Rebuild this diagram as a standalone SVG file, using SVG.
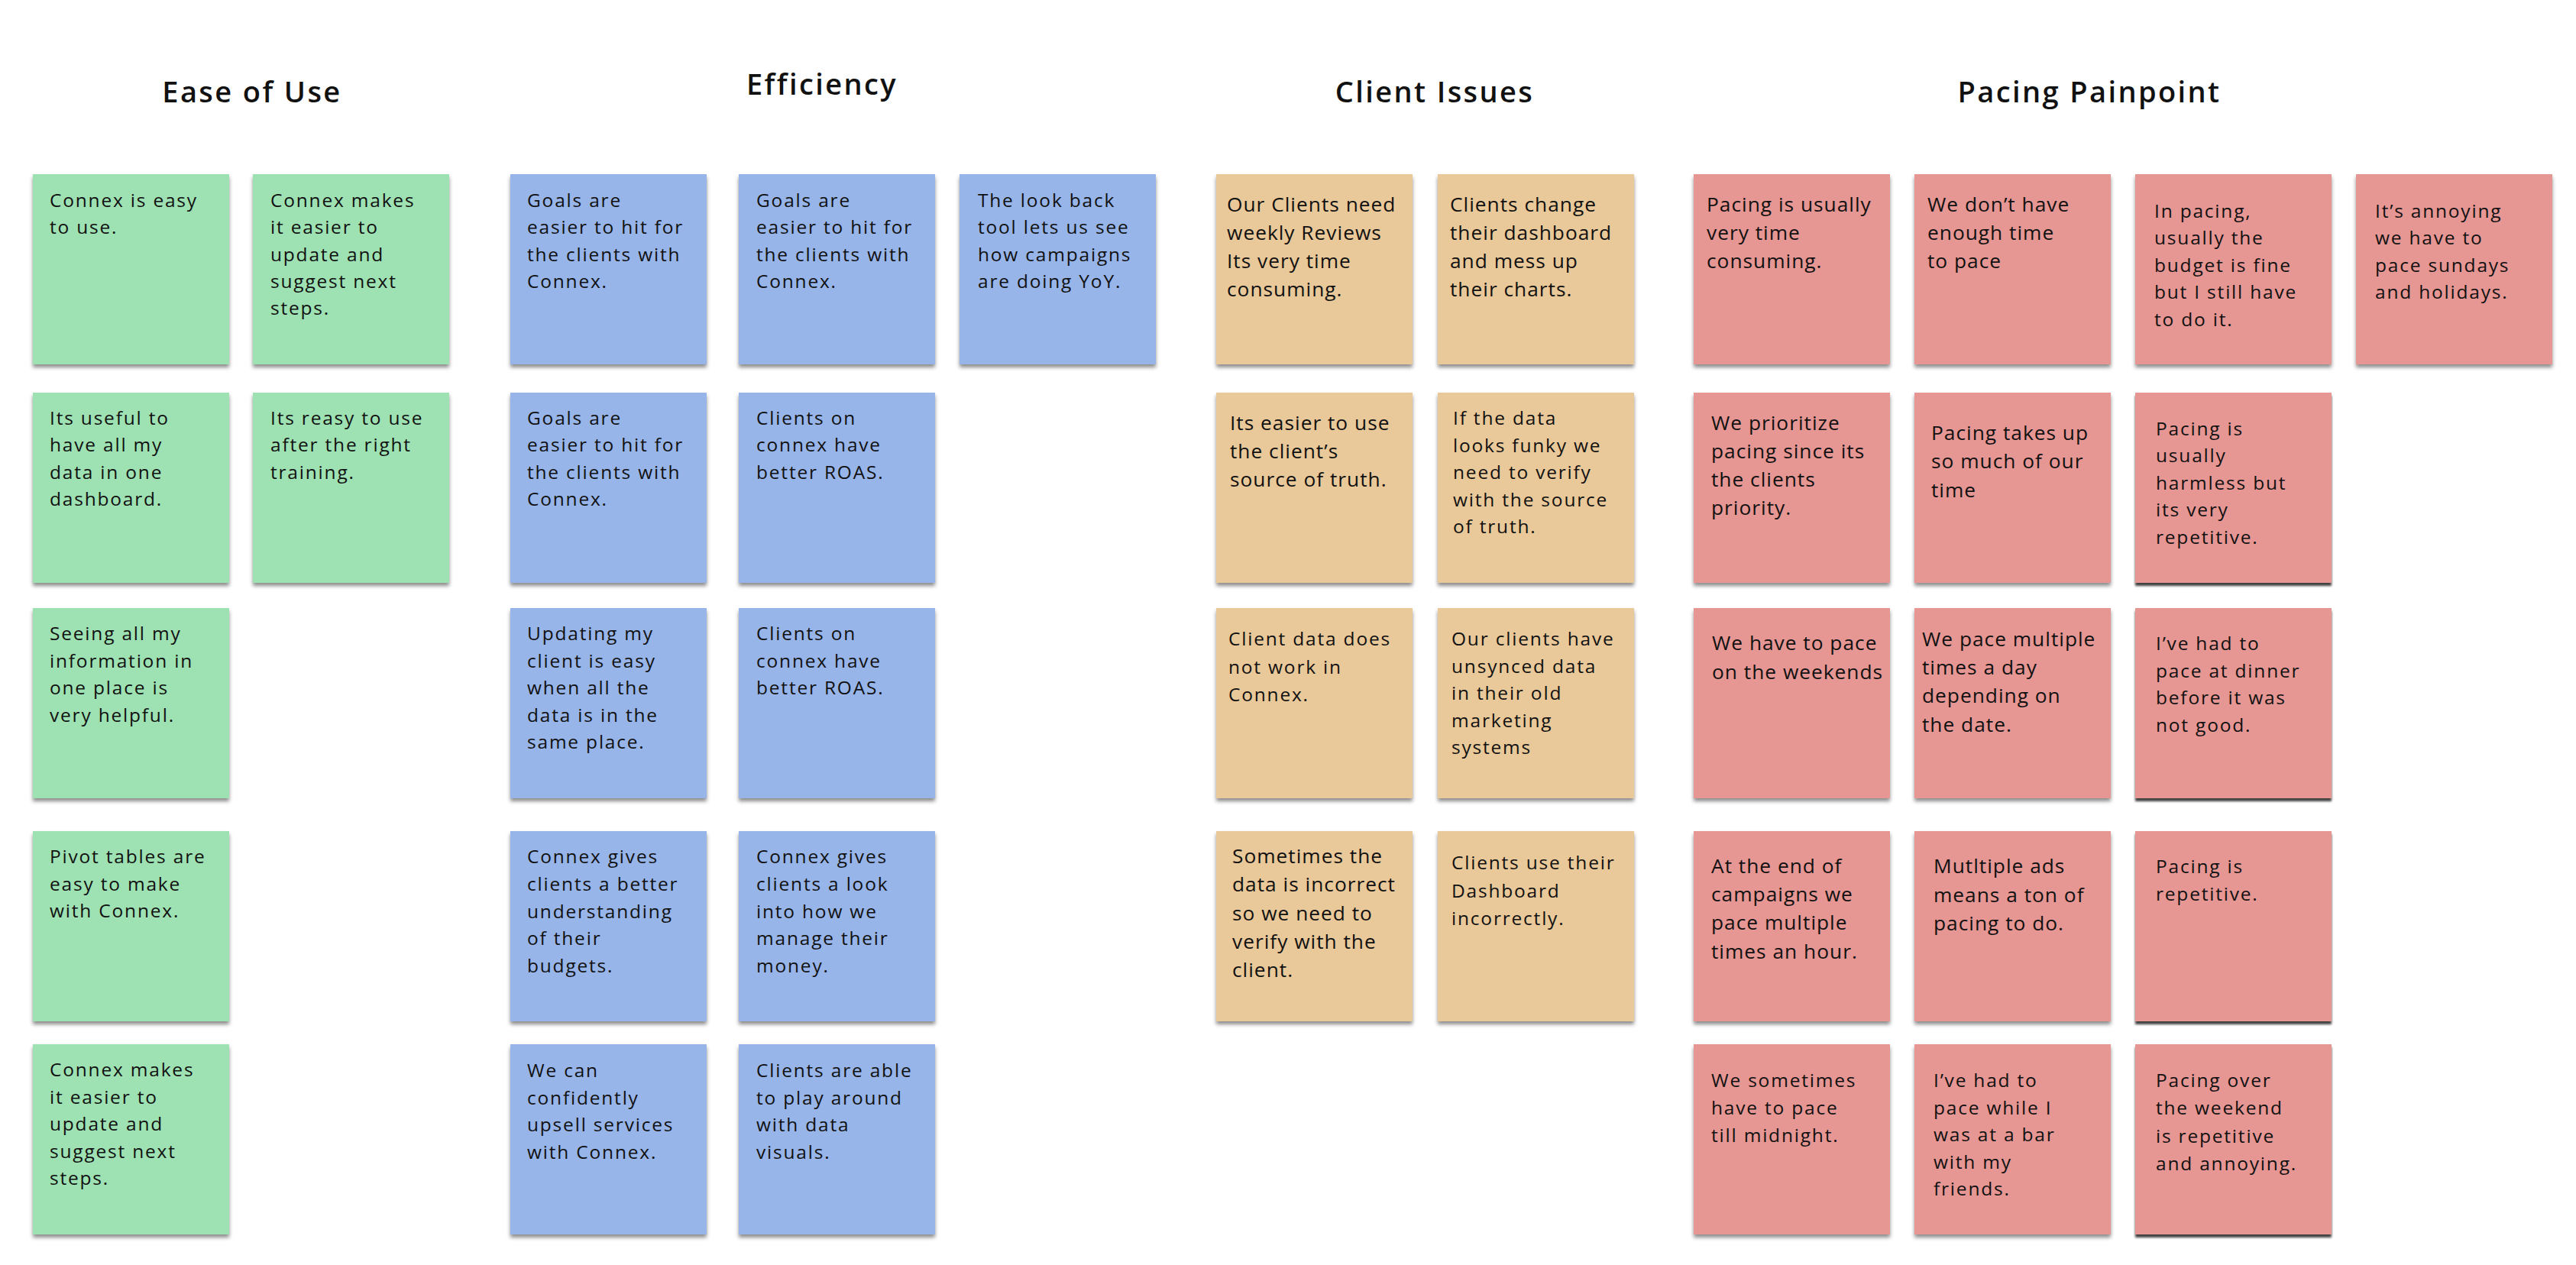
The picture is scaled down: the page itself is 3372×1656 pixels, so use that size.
<svg xmlns="http://www.w3.org/2000/svg" width="3372" height="1656" viewBox="0 0 3372 1656">
<style>
.title{font-family:"Open Sans","Liberation Sans",sans-serif;font-weight:600;font-size:38px;letter-spacing:2.4px;fill:#111;text-anchor:middle}
.nt{font-family:"Open Sans","Liberation Sans",sans-serif;font-size:24.5px;letter-spacing:1.8px;fill:#111}
.lg{font-size:26.3px;letter-spacing:1px}
.n{filter:url(#sh)}
.nd{filter:url(#shd)}
.green{fill:#9EE2B3}
.blue{fill:#97B5E9}
.tan{fill:#E9C899}
.pink{fill:#E69693}
</style>
<defs>
<filter id="sh" x="-10%" y="-10%" width="120%" height="125%">
<feDropShadow dx="0" dy="4" stdDeviation="2.5" flood-color="#000" flood-opacity="0.45"/>
</filter>
<filter id="shd" x="-10%" y="-10%" width="120%" height="125%">
<feDropShadow dx="0" dy="4" stdDeviation="1.5" flood-color="#000" flood-opacity="0.75"/>
</filter>
</defs>
<rect width="3372" height="1656" fill="#fff"/>
<g id="titles">
<text class="title" x="330" y="134">Ease of Use</text>
<text class="title" x="1076" y="124">Efficiency</text>
<text class="title" x="1878" y="134">Client Issues</text>
<text class="title" x="2735" y="134">Pacing Painpoint</text>
</g>
<!-- Ease of Use -->
<g id="g1"><rect class="n green" x="43" y="228" width="257" height="249"/><text class="nt" x="65" y="271"><tspan x="65">Connex is easy</tspan><tspan x="65" dy="35.3">to use.</tspan></text></g>
<g id="g2"><rect class="n green" x="331" y="228" width="257" height="249"/><text class="nt" x="354" y="271"><tspan x="354">Connex makes</tspan><tspan x="354" dy="35.3">it easier to</tspan><tspan x="354" dy="35.3">update and</tspan><tspan x="354" dy="35.3">suggest next</tspan><tspan x="354" dy="35.3">steps.</tspan></text></g>
<g id="g3"><rect class="n green" x="43" y="514" width="257" height="249"/><text class="nt" x="65" y="556"><tspan x="65">Its useful to</tspan><tspan x="65" dy="35.3">have all my</tspan><tspan x="65" dy="35.3">data in one</tspan><tspan x="65" dy="35.3">dashboard.</tspan></text></g>
<g id="g4"><rect class="n green" x="331" y="514" width="257" height="249"/><text class="nt" x="354" y="556"><tspan x="354">Its reasy to use</tspan><tspan x="354" dy="35.3">after the right</tspan><tspan x="354" dy="35.3">training.</tspan></text></g>
<g id="g5"><rect class="n green" x="43" y="796" width="257" height="249"/><text class="nt" x="65" y="838"><tspan x="65">Seeing all my</tspan><tspan x="65" dy="35.5">information in</tspan><tspan x="65" dy="35.5">one place is</tspan><tspan x="65" dy="35.5">very helpful.</tspan></text></g>
<g id="g6"><rect class="n green" x="43" y="1088" width="257" height="249"/><text class="nt" x="65" y="1130"><tspan x="65">Pivot tables are</tspan><tspan x="65" dy="35.5">easy to make</tspan><tspan x="65" dy="35.5">with Connex.</tspan></text></g>
<g id="g7"><rect class="n green" x="43" y="1367" width="257" height="249"/><text class="nt" x="65" y="1409"><tspan x="65">Connex makes</tspan><tspan x="65" dy="35.5">it easier to</tspan><tspan x="65" dy="35.5">update and</tspan><tspan x="65" dy="35.5">suggest next</tspan><tspan x="65" dy="35.5">steps.</tspan></text></g>
<!-- Efficiency -->
<g id="b1"><rect class="n blue" x="668" y="228" width="257" height="249"/><text class="nt" x="690" y="271"><tspan x="690">Goals are</tspan><tspan x="690" dy="35.3">easier to hit for</tspan><tspan x="690" dy="35.3">the clients with</tspan><tspan x="690" dy="35.3">Connex.</tspan></text></g>
<g id="b2"><rect class="n blue" x="967" y="228" width="257" height="249"/><text class="nt" x="990" y="271"><tspan x="990">Goals are</tspan><tspan x="990" dy="35.3">easier to hit for</tspan><tspan x="990" dy="35.3">the clients with</tspan><tspan x="990" dy="35.3">Connex.</tspan></text></g>
<g id="b3"><rect class="n blue" x="1256" y="228" width="257" height="249"/><text class="nt" x="1280" y="271"><tspan x="1280">The look back</tspan><tspan x="1280" dy="35.3">tool lets us see</tspan><tspan x="1280" dy="35.3">how campaigns</tspan><tspan x="1280" dy="35.3">are doing YoY.</tspan></text></g>
<g id="b4"><rect class="n blue" x="668" y="514" width="257" height="249"/><text class="nt" x="690" y="556"><tspan x="690">Goals are</tspan><tspan x="690" dy="35.3">easier to hit for</tspan><tspan x="690" dy="35.3">the clients with</tspan><tspan x="690" dy="35.3">Connex.</tspan></text></g>
<g id="b5"><rect class="n blue" x="967" y="514" width="257" height="249"/><text class="nt" x="990" y="556"><tspan x="990">Clients on</tspan><tspan x="990" dy="35.3">connex have</tspan><tspan x="990" dy="35.3">better ROAS.</tspan></text></g>
<g id="b6"><rect class="n blue" x="668" y="796" width="257" height="249"/><text class="nt" x="690" y="838"><tspan x="690">Updating my</tspan><tspan x="690" dy="35.6">client is easy</tspan><tspan x="690" dy="35.6">when all the</tspan><tspan x="690" dy="35.6">data is in the</tspan><tspan x="690" dy="35.6">same place.</tspan></text></g>
<g id="b7"><rect class="n blue" x="967" y="796" width="257" height="249"/><text class="nt" x="990" y="838"><tspan x="990">Clients on</tspan><tspan x="990" dy="35.6">connex have</tspan><tspan x="990" dy="35.6">better ROAS.</tspan></text></g>
<g id="b8"><rect class="n blue" x="668" y="1088" width="257" height="249"/><text class="nt" x="690" y="1130"><tspan x="690">Connex gives</tspan><tspan x="690" dy="35.8">clients a better</tspan><tspan x="690" dy="35.8">understanding</tspan><tspan x="690" dy="35.8">of their</tspan><tspan x="690" dy="35.8">budgets.</tspan></text></g>
<g id="b9"><rect class="n blue" x="967" y="1088" width="257" height="249"/><text class="nt" x="990" y="1130"><tspan x="990">Connex gives</tspan><tspan x="990" dy="35.8">clients a look</tspan><tspan x="990" dy="35.8">into how we</tspan><tspan x="990" dy="35.8">manage their</tspan><tspan x="990" dy="35.8">money.</tspan></text></g>
<g id="b10"><rect class="n blue" x="668" y="1367" width="257" height="249"/><text class="nt" x="690" y="1410"><tspan x="690">We can</tspan><tspan x="690" dy="35.6">confidently</tspan><tspan x="690" dy="35.6">upsell services</tspan><tspan x="690" dy="35.6">with Connex.</tspan></text></g>
<g id="b11"><rect class="n blue" x="967" y="1367" width="257" height="249"/><text class="nt" x="990" y="1410"><tspan x="990">Clients are able</tspan><tspan x="990" dy="35.6">to play around</tspan><tspan x="990" dy="35.6">with data</tspan><tspan x="990" dy="35.6">visuals.</tspan></text></g>
<!-- Client Issues -->
<g id="c1"><rect class="n tan" x="1592" y="228" width="257" height="249"/><text class="nt lg" x="1606" y="277"><tspan x="1606">Our Clients need</tspan><tspan x="1606" dy="37">weekly Reviews</tspan><tspan x="1606" dy="37">Its very time</tspan><tspan x="1606" dy="37">consuming.</tspan></text></g>
<g id="c2"><rect class="n tan" x="1882" y="228" width="257" height="249"/><text class="nt lg" x="1898" y="277"><tspan x="1898">Clients change</tspan><tspan x="1898" dy="37">their dashboard</tspan><tspan x="1898" dy="37">and mess up</tspan><tspan x="1898" dy="37">their charts.</tspan></text></g>
<g id="c3"><rect class="n tan" x="1592" y="514" width="257" height="249"/><text class="nt lg" x="1610" y="563"><tspan x="1610">Its easier to use</tspan><tspan x="1610" dy="37">the client’s</tspan><tspan x="1610" dy="37">source of truth.</tspan></text></g>
<g id="c4"><rect class="n tan" x="1882" y="514" width="257" height="249"/><text class="nt" x="1902" y="556"><tspan x="1902">If the data</tspan><tspan x="1902" dy="35.5">looks funky we</tspan><tspan x="1902" dy="35.5">need to verify</tspan><tspan x="1902" dy="35.5">with the source</tspan><tspan x="1902" dy="35.5">of truth.</tspan></text></g>
<g id="c5"><rect class="n tan" x="1592" y="796" width="257" height="249"/><text class="nt" x="1608" y="845"><tspan x="1608">Client data does</tspan><tspan x="1608" dy="36.5">not work in</tspan><tspan x="1608" dy="36.5">Connex.</tspan></text></g>
<g id="c6"><rect class="n tan" x="1882" y="796" width="257" height="249"/><text class="nt" x="1900" y="845"><tspan x="1900">Our clients have</tspan><tspan x="1900" dy="35.6">unsynced data</tspan><tspan x="1900" dy="35.6">in their old</tspan><tspan x="1900" dy="35.6">marketing</tspan><tspan x="1900" dy="35.6">systems</tspan></text></g>
<g id="c7"><rect class="n tan" x="1592" y="1088" width="257" height="249"/><text class="nt lg" x="1613" y="1130"><tspan x="1613">Sometimes the</tspan><tspan x="1613" dy="37.3">data is incorrect</tspan><tspan x="1613" dy="37.3">so we need to</tspan><tspan x="1613" dy="37.3">verify with the</tspan><tspan x="1613" dy="37.3">client.</tspan></text></g>
<g id="c8"><rect class="n tan" x="1882" y="1088" width="257" height="249"/><text class="nt" x="1900" y="1138"><tspan x="1900">Clients use their</tspan><tspan x="1900" dy="36.5">Dashboard</tspan><tspan x="1900" dy="36.5">incorrectly.</tspan></text></g>
<!-- Pacing Painpoint -->
<g id="p1"><rect class="n pink" x="2217" y="228" width="257" height="249"/><text class="nt lg" x="2234" y="277"><tspan x="2234">Pacing is usually</tspan><tspan x="2234" dy="37">very time</tspan><tspan x="2234" dy="37">consuming.</tspan></text></g>
<g id="p2"><rect class="n pink" x="2506" y="228" width="257" height="249"/><text class="nt lg" x="2523" y="277"><tspan x="2523">We don’t have</tspan><tspan x="2523" dy="37">enough time</tspan><tspan x="2523" dy="37">to pace</tspan></text></g>
<g id="p3"><rect class="n pink" x="2795" y="228" width="257" height="249"/><text class="nt" x="2820" y="285"><tspan x="2820">In pacing,</tspan><tspan x="2820" dy="35.4">usually the</tspan><tspan x="2820" dy="35.4">budget is fine</tspan><tspan x="2820" dy="35.4">but I still have</tspan><tspan x="2820" dy="35.4">to do it.</tspan></text></g>
<g id="p4"><rect class="n pink" x="3084" y="228" width="257" height="249"/><text class="nt" x="3109" y="285"><tspan x="3109">It’s annoying</tspan><tspan x="3109" dy="35.4">we have to</tspan><tspan x="3109" dy="35.4">pace sundays</tspan><tspan x="3109" dy="35.4">and holidays.</tspan></text></g>
<g id="p5"><rect class="n pink" x="2217" y="514" width="257" height="249"/><text class="nt lg" x="2240" y="563"><tspan x="2240">We prioritize</tspan><tspan x="2240" dy="37">pacing since its</tspan><tspan x="2240" dy="37">the clients</tspan><tspan x="2240" dy="37">priority.</tspan></text></g>
<g id="p6"><rect class="n pink" x="2506" y="514" width="257" height="249"/><text class="nt lg" x="2528" y="576"><tspan x="2528">Pacing takes up</tspan><tspan x="2528" dy="37.4">so much of our</tspan><tspan x="2528" dy="37.4">time</tspan></text></g>
<g id="p7"><rect class="nd pink" x="2795" y="514" width="257" height="249"/><text class="nt" x="2822" y="570"><tspan x="2822">Pacing is</tspan><tspan x="2822" dy="35.4">usually</tspan><tspan x="2822" dy="35.4">harmless but</tspan><tspan x="2822" dy="35.4">its very</tspan><tspan x="2822" dy="35.4">repetitive.</tspan></text></g>
<g id="p8"><rect class="n pink" x="2217" y="796" width="257" height="249"/><text class="nt lg" x="2241" y="851"><tspan x="2241">We have to pace</tspan><tspan x="2241" dy="37.6">on the weekends</tspan></text></g>
<g id="p9"><rect class="n pink" x="2506" y="796" width="257" height="249"/><text class="nt lg" x="2516" y="846"><tspan x="2516">We pace multiple</tspan><tspan x="2516" dy="37.2">times a day</tspan><tspan x="2516" dy="37.2">depending on</tspan><tspan x="2516" dy="37.2">the date.</tspan></text></g>
<g id="p10"><rect class="nd pink" x="2795" y="796" width="257" height="249"/><text class="nt" x="2822" y="851"><tspan x="2822">I’ve had to</tspan><tspan x="2822" dy="35.5">pace at dinner</tspan><tspan x="2822" dy="35.5">before it was</tspan><tspan x="2822" dy="35.5">not good.</tspan></text></g>
<g id="p11"><rect class="n pink" x="2217" y="1088" width="257" height="249"/><text class="nt lg" x="2240" y="1143"><tspan x="2240">At the end of</tspan><tspan x="2240" dy="37.2">campaigns we</tspan><tspan x="2240" dy="37.2">pace multiple</tspan><tspan x="2240" dy="37.2">times an hour.</tspan></text></g>
<g id="p12"><rect class="n pink" x="2506" y="1088" width="257" height="249"/><text class="nt lg" x="2531" y="1143"><tspan x="2531">Mutltiple ads</tspan><tspan x="2531" dy="37.6">means a ton of</tspan><tspan x="2531" dy="37.6">pacing to do.</tspan></text></g>
<g id="p13"><rect class="nd pink" x="2795" y="1088" width="257" height="249"/><text class="nt" x="2822" y="1143"><tspan x="2822">Pacing is</tspan><tspan x="2822" dy="36">repetitive.</tspan></text></g>
<g id="p14"><rect class="n pink" x="2217" y="1367" width="257" height="249"/><text class="nt" x="2240" y="1423"><tspan x="2240">We sometimes</tspan><tspan x="2240" dy="36.2">have to pace</tspan><tspan x="2240" dy="36.2">till midnight.</tspan></text></g>
<g id="p15"><rect class="n pink" x="2506" y="1367" width="257" height="249"/><text class="nt" x="2531" y="1423"><tspan x="2531">I’ve had to</tspan><tspan x="2531" dy="35.5">pace while I</tspan><tspan x="2531" dy="35.5">was at a bar</tspan><tspan x="2531" dy="35.5">with my</tspan><tspan x="2531" dy="35.5">friends.</tspan></text></g>
<g id="p16"><rect class="nd pink" x="2795" y="1367" width="257" height="249"/><text class="nt" x="2822" y="1423"><tspan x="2822">Pacing over</tspan><tspan x="2822" dy="36.3">the weekend</tspan><tspan x="2822" dy="36.3">is repetitive</tspan><tspan x="2822" dy="36.3">and annoying.</tspan></text></g>
</svg>
